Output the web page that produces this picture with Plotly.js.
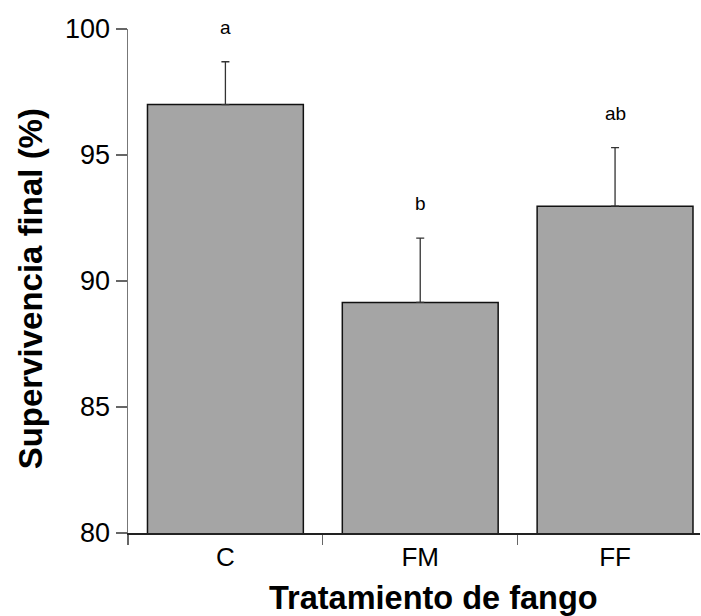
<!DOCTYPE html>
<html>
<head>
<meta charset="utf-8">
<script src="https://cdn.plot.ly/plotly-3.0.1.min.js"></script>
<style>
  html, body { margin: 0; padding: 0; background: #ffffff; }
  #chart { width: 701px; height: 616px; }
</style>
</head>
<body>
<div id="chart"></div>
<script>
// Supervivencia final por tratamiento de fango (media + error)
const categories = ['C', 'FM', 'FF'];
const survival = [97.0, 89.15, 92.97];
const errorUp = [1.7, 2.55, 2.32];
const groupLetters = ['a', 'b', 'ab'];
const yTicks = [80, 85, 90, 95, 100];

const FONT = 'Liberation Sans, Arial, sans-serif';

const bars = {
  type: 'bar',
  x: categories,
  y: survival,
  width: 0.8,
  marker: {
    color: '#a5a5a5',
    line: { color: '#111111', width: 1.5 }
  },
  error_y: {
    type: 'data',
    symmetric: false,
    array: errorUp,
    arrayminus: errorUp.map(() => 0),
    color: '#333333',
    thickness: 1.3,
    width: 4
  },
  hoverinfo: 'skip'
};

// significance letters above each error bar
const letterNotes = categories.map((c, i) => ({
  x: c,
  y: survival[i] + errorUp[i],
  xref: 'x',
  yref: 'y',
  text: groupLetters[i],
  showarrow: false,
  yanchor: 'bottom',
  yshift: 22,
  font: { family: FONT, size: 19, color: '#000000' }
}));

const layout = {
  width: 701,
  height: 616,
  margin: { l: 128, r: 1, t: 29, b: 83, pad: 0 },
  paper_bgcolor: '#ffffff',
  plot_bgcolor: '#ffffff',
  showlegend: false,
  font: { family: FONT, color: '#000000' },
  xaxis: {
    type: 'category',
    range: [-0.5, 2.436],
    tickson: 'boundaries',
    ticks: 'outside',
    ticklen: 10,
    tickwidth: 1.3,
    tickcolor: '#666666',
    showline: true,
    linecolor: '#222222',
    linewidth: 1.5,
    showgrid: false,
    zeroline: false,
    tickfont: { family: FONT, size: 26, color: '#000000' }
  },
  yaxis: {
    range: [80, 100],
    tickvals: yTicks,
    ticktext: yTicks.map(String),
    ticks: 'outside',
    ticklen: 11,
    tickwidth: 1.3,
    tickcolor: '#666666',
    showline: true,
    linecolor: '#777777',
    linewidth: 1.5,
    showgrid: false,
    zeroline: false,
    tickfont: { family: FONT, size: 27, color: '#000000' }
  },
  annotations: letterNotes.concat([
    {
      text: '<b>Tratamiento de fango</b>',
      xref: 'paper', yref: 'paper',
      x: 0.534, y: -0.128,
      xanchor: 'center', yanchor: 'middle',
      showarrow: false,
      font: { family: FONT, size: 32.5, color: '#000000' }
    },
    {
      text: '<b>Supervivencia final (%)</b>',
      xref: 'paper', yref: 'paper',
      x: -0.17, y: 0.485,
      xanchor: 'center', yanchor: 'middle',
      textangle: -90,
      showarrow: false,
      font: { family: FONT, size: 33, color: '#000000' }
    }
  ])
};

Plotly.newPlot('chart', [bars], layout, { displayModeBar: false, staticPlot: true });
</script>
</body>
</html>
